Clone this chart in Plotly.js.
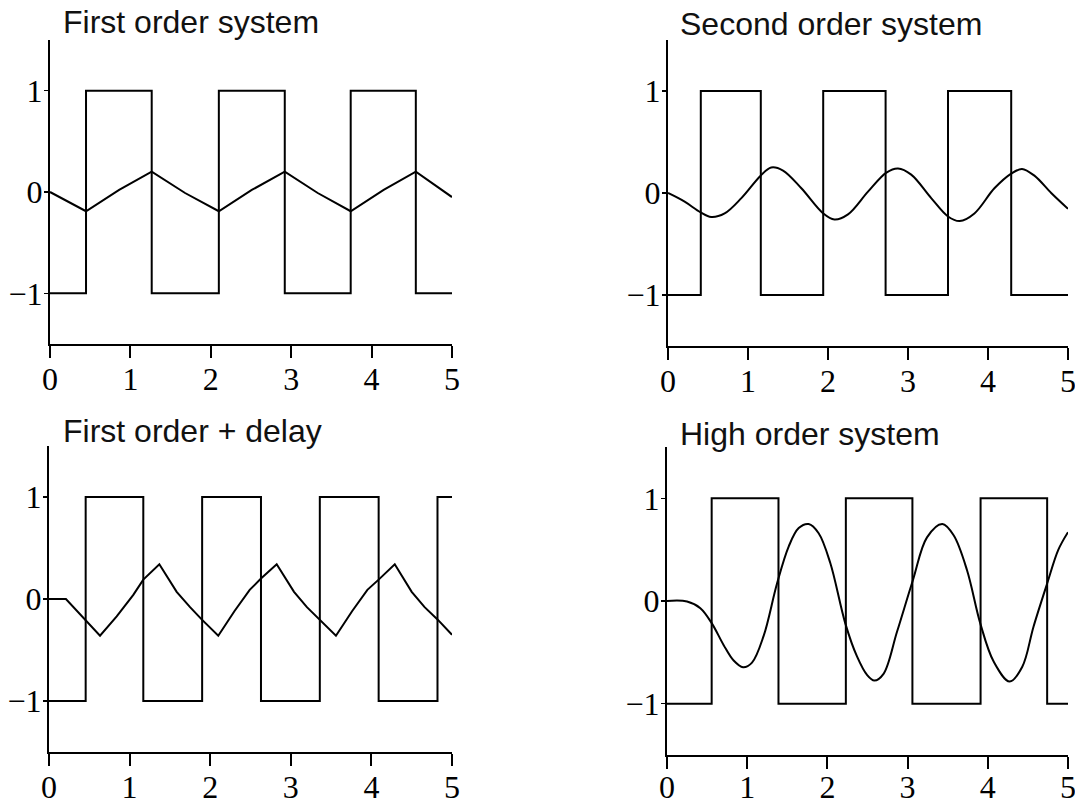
<!DOCTYPE html>
<html>
<head>
<meta charset="utf-8">
<script src="https://cdn.plot.ly/plotly-3.0.1.min.js"></script>
<style>html,body{margin:0;padding:0;background:#fff;}#chart{width:1075px;height:805px;}</style>
</head>
<body>
<div id="chart"></div>
<script>
// Panel titles
const titles = ["First order system", "Second order system", "First order + delay", "High order system"];

// Axis ticks
const xTicks = [0, 1, 2, 3, 4, 5];
const xTickText = ["0", "1", "2", "3", "4", "5"];
const yTicks = [-1, 0, 1];
const yTickText = ["\u22121", "0", "1"];

// Relay (square wave) switching times and levels
const sq1T = [0, 0.448, 1.265, 2.10, 2.92, 3.74, 4.55, 5];
const sq1V = [-1, 1, -1, 1, -1, 1, -1, -1];
const sq2T = [0, 0.41, 1.16, 1.94, 2.72, 3.50, 4.29, 5];
const sq2V = [-1, 1, -1, 1, -1, 1, -1, -1];
const sq3T = [0, 0.455, 1.17, 1.90, 2.63, 3.36, 4.09, 4.82, 5];
const sq3V = [-1, 1, -1, 1, -1, 1, -1, 1, 1];
const sq4T = [0, 0.557, 1.39, 2.23, 3.06, 3.91, 4.74, 5];
const sq4V = [-1, 1, -1, 1, -1, 1, -1, -1];

// Process outputs
const out1T = [0, 0.448, 0.86, 1.265, 1.68, 2.10, 2.51, 2.92, 3.33, 3.74, 4.15, 4.55, 5];
const out1V = [0, -0.19, 0.02, 0.20, -0.01, -0.19, 0.02, 0.20, -0.01, -0.19, 0.02, 0.20, -0.05];

const out2T = [0, 0.208, 0.408, 0.54, 0.708, 0.917, 1.158, 1.29, 1.438, 1.667, 1.94, 2.08, 2.25, 2.50, 2.73, 2.875, 3.04, 3.29, 3.50, 3.646, 3.83, 4.08, 4.29, 4.425, 4.58, 4.79, 5];
const out2V = [0, -0.085, -0.19, -0.235, -0.20, -0.05, 0.17, 0.25, 0.22, 0.046, -0.20, -0.26, -0.21, 0.013, 0.20, 0.24, 0.18, -0.05, -0.23, -0.275, -0.20, 0.046, 0.19, 0.236, 0.17, 0.0, -0.155];

const out3T = [0, 0.21, 0.633, 0.84, 1.046, 1.17, 1.369, 1.584, 1.75, 1.894, 2.10, 2.30, 2.49, 2.63, 2.825, 3.04, 3.20, 3.36, 3.56, 3.76, 3.95, 4.09, 4.29, 4.50, 4.66, 4.82, 5];
const out3V = [0, 0, -0.36, -0.17, 0.04, 0.19, 0.34, 0.07, -0.08, -0.20, -0.36, -0.12, 0.09, 0.20, 0.34, 0.07, -0.08, -0.20, -0.36, -0.12, 0.09, 0.19, 0.34, 0.07, -0.08, -0.20, -0.35];

const out4T = [0, 0.25, 0.416, 0.561, 0.707, 0.831, 0.948, 1.06, 1.205, 1.372, 1.517, 1.642, 1.766, 1.891, 2.036, 2.224, 2.369, 2.494, 2.585, 2.70, 2.868, 3.067, 3.242, 3.433, 3.574, 3.741, 3.907, 4.073, 4.273, 4.43, 4.57, 4.74, 4.88, 5];
const out4V = [0, -0.005, -0.07, -0.22, -0.43, -0.58, -0.645, -0.60, -0.34, 0.17, 0.53, 0.71, 0.75, 0.66, 0.37, -0.22, -0.54, -0.72, -0.775, -0.71, -0.30, 0.205, 0.62, 0.75, 0.64, 0.30, -0.22, -0.59, -0.785, -0.64, -0.25, 0.17, 0.50, 0.67];

const LINE = {color: "#000", width: 2};
function sq(x, y, n) {
  return {x: x, y: y, xaxis: "x" + (n === 1 ? "" : n), yaxis: "y" + (n === 1 ? "" : n),
    mode: "lines", line: Object.assign({shape: "hv"}, LINE), hoverinfo: "skip"};
}
function out(x, y, n, shape) {
  return {x: x, y: y, xaxis: "x" + (n === 1 ? "" : n), yaxis: "y" + (n === 1 ? "" : n),
    mode: "lines", line: Object.assign({shape: shape, smoothing: 1}, LINE), hoverinfo: "skip"};
}

const data = [
  sq(sq1T, sq1V, 1), out(out1T, out1V, 1, "linear"),
  sq(sq2T, sq2V, 2), out(out2T, out2V, 2, "spline"),
  sq(sq3T, sq3V, 3), out(out3T, out3V, 3, "linear"),
  sq(sq4T, sq4V, 4), out(out4T, out4V, 4, "spline")
];

const W = 1075, H = 805;
const tickFont = {family: "Liberation Serif, Times New Roman, serif", size: 32, color: "#000"};
function xax(l, r, anchor, standoff) {
  return {domain: [l / W, r / W], range: [0, 5], anchor: anchor, showgrid: false, zeroline: false,
    showline: true, linecolor: "#000", linewidth: 2, ticks: "outside", ticklen: 12, tickwidth: 2,
    tickcolor: "#000", tickvals: xTicks, ticktext: xTickText, ticklabeloverflow: "allow",
    ticklabelstandoff: standoff, tickfont: tickFont, fixedrange: true};
}
function yax(top, bottom, anchor) {
  return {domain: [1 - bottom / H, 1 - top / H], range: [-1.5, 1.5], anchor: anchor, showgrid: false, zeroline: false,
    showline: true, linecolor: "#000", linewidth: 2, ticks: "outside", ticklen: 4, tickwidth: 1.5,
    tickcolor: "#000", tickvals: yTicks, ticktext: yTickText, ticklabeloverflow: "allow",
    ticklabelstandoff: -5, tickfont: tickFont, fixedrange: true};
}

const titleFont = {family: "Liberation Sans, Arial, sans-serif", size: 32, color: "#111"};
function ann(text, xpx, ypx) {
  return {text: text, xref: "paper", yref: "paper", x: xpx / W, y: 1 - ypx / H,
    xanchor: "left", yanchor: "middle", showarrow: false, font: titleFont};
}

const layout = {
  width: W, height: H, margin: {l: 0, r: 0, t: 0, b: 0},
  paper_bgcolor: "#fff", plot_bgcolor: "rgba(0,0,0,0)", showlegend: false,
  xaxis: xax(50, 452, "y", -6), yaxis: yax(40, 344, "x"),
  xaxis2: xax(668, 1068, "y2", -6), yaxis2: yax(40, 346, "x2"),
  xaxis3: xax(49, 452, "y3", -6), yaxis3: yax(446, 752, "x3"),
  xaxis4: xax(667, 1068, "y4", -9), yaxis4: yax(447, 755, "x4"),
  annotations: [
    ann(titles[0], 61, 22.5), ann(titles[1], 678, 23.5),
    ann(titles[2], 61, 430.5), ann(titles[3], 678, 433.5)
  ]
};

Plotly.newPlot("chart", data, layout, {staticPlot: true, displayModeBar: false});
</script>
</body>
</html>
